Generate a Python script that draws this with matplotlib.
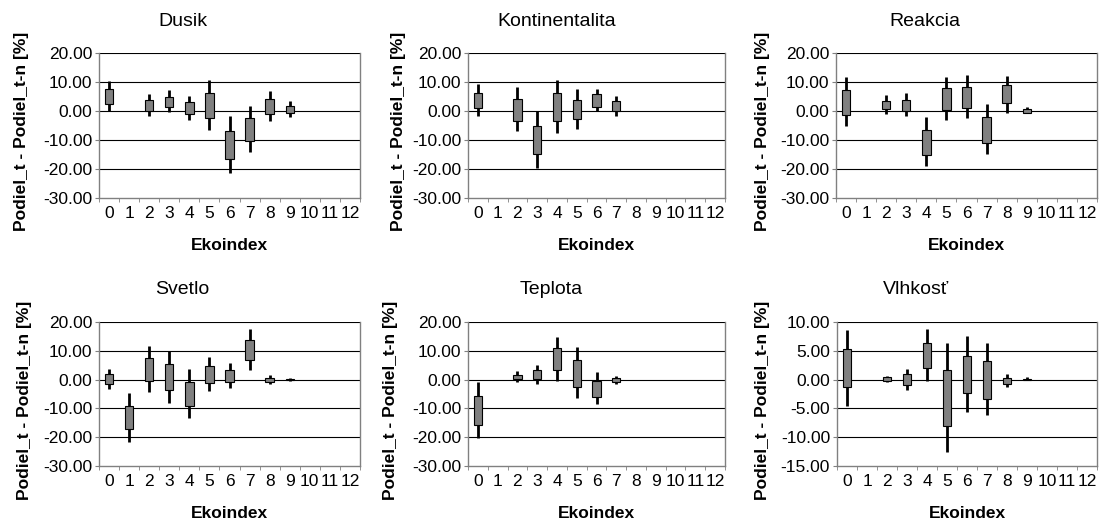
import matplotlib
matplotlib.use("Agg")
import matplotlib.pyplot as plt
import numpy as np

plt.rcParams['font.family'] = ['Liberation Sans', 'DejaVu Sans']

categories = [str(i) for i in range(13)]

titles = ["Dusik", "Kontinentalita", "Reakcia", "Svetlo", "Teplota", "Vlhkosť"]

# values per category 0..12 (None = no data)
dusik_high = [10.4, None, 5.8, 7.1, 5.3, 10.8, -1.6, 1.6, 6.9, 3.3, None, None, None]
dusik_low = [0.0, None, -1.8, -0.5, -3.0, -6.6, -21.4, -14.1, -3.5, -2.1, None, None, None]
dusik_box_top = [7.6, None, 3.7, 4.8, 3.0, 6.2, -7.0, -2.4, 4.2, 1.7, None, None, None]
dusik_box_bot = [2.4, None, 0.0, 1.4, -1.0, -2.5, -16.5, -10.3, -1.0, -0.7, None, None, None]

kont_high = [9.2, None, 8.2, 0.0, 10.7, 7.6, 7.6, 5.2, None, None, None, None, None]
kont_low = [-1.6, None, -7.0, -19.8, -7.6, -6.1, 0.0, -1.8, None, None, None, None, None]
kont_box_top = [6.3, None, 4.1, -5.1, 6.1, 3.9, 5.8, 3.4, None, None, None, None, None]
kont_box_bot = [1.0, None, -3.3, -14.8, -3.3, -2.7, 1.5, 0.0, None, None, None, None, None]

reak_high = [11.6, None, 5.5, 6.1, -2.2, 11.6, 12.3, 2.3, 11.9, 1.5, None, None, None]
reak_low = [-5.3, None, -1.0, -1.6, -19.1, -3.1, -2.5, -14.9, -0.8, -0.6, None, None, None]
reak_box_top = [7.2, None, 3.5, 3.8, -6.5, 7.8, 8.4, -2.2, 8.8, 0.6, None, None, None]
reak_box_bot = [-1.3, None, 0.8, 0.0, -15.1, 0.2, 0.9, -10.9, 2.6, -0.6, None, None, None]

svet_high = [3.8, -4.8, 11.5, 9.9, 3.8, 7.8, 5.7, 17.5, 1.7, 0.7, None, None, None]
svet_low = [-3.1, -21.5, -4.4, -8.0, -13.2, -4.0, -2.8, 3.4, -1.4, -0.5, None, None, None]
svet_box_top = [1.8, -9.2, 7.5, 5.3, -1.0, 4.6, 3.2, 13.8, 0.7, 0.1, None, None, None]
svet_box_bot = [-1.5, -17.2, -0.6, -3.7, -9.2, -1.1, -1.0, 6.9, -0.9, -0.3, None, None, None]

tepl_high = [-0.8, None, 2.9, 5.2, 14.7, 11.3, 2.6, 1.4, None, None, None, None, None]
tepl_low = [-20.3, None, -1.0, -1.6, -0.5, -6.3, -8.3, -1.4, None, None, None, None, None]
tepl_box_top = [-5.7, None, 1.7, 3.2, 11.0, 6.7, -0.6, 0.6, None, None, None, None, None]
tepl_box_bot = [-15.6, None, 0.1, 0.1, 3.4, -2.5, -6.0, -0.8, None, None, None, None, None]

vlhk_high = [8.6, None, 0.7, 1.8, 8.8, 6.3, 7.5, 6.3, 0.9, 0.5, None, None, None]
vlhk_low = [-4.5, None, -0.5, -1.8, -0.2, -12.6, -5.6, -6.2, -1.2, -0.1, None, None, None]
vlhk_box_top = [5.3, None, 0.4, 0.9, 6.4, 1.6, 4.1, 3.2, 0.3, 0.1, None, None, None]
vlhk_box_bot = [-1.3, None, -0.3, -0.9, 2.1, -8.0, -2.4, -3.3, -0.8, -0.1, None, None, None]

series = [
    (dusik_high, dusik_low, dusik_box_top, dusik_box_bot),
    (kont_high, kont_low, kont_box_top, kont_box_bot),
    (reak_high, reak_low, reak_box_top, reak_box_bot),
    (svet_high, svet_low, svet_box_top, svet_box_bot),
    (tepl_high, tepl_low, tepl_box_top, tepl_box_bot),
    (vlhk_high, vlhk_low, vlhk_box_top, vlhk_box_bot),
]

y_ranges = [(-30, 20, 10)] * 5 + [(-15, 10, 5)]

W, H = 1099, 520
fig = plt.figure(figsize=(W / 100, H / 100), dpi=100)

# axes pixel boxes: left, right, top, bottom
boxes = [
    (99, 360, 53, 198), (468, 725, 53, 198), (836, 1097, 53, 198),
    (99, 360, 322, 466), (468, 725, 322, 466), (837, 1097, 322, 466),
]
title_pos = [(183, 22), (557, 22), (925, 22), (182, 290), (551, 290), (916, 290)]
ylab_x = [22, 398, 763, 25, 390, 763]
xlab_y = [245, 245, 245, 514, 514, 514]

gray = '#808080'
for i in range(6):
    l, r, t, b = boxes[i]
    ax = fig.add_axes([l / W, 1 - b / H, (r - l) / W, (b - t) / H])
    high, low, btop, bbot = series[i]
    ymin, ymax, step = y_ranges[i]
    x = np.arange(len(categories))
    for xi, hi, lo, bt, bb in zip(x, high, low, btop, bbot):
        if hi is None:
            continue
        ax.vlines(xi, lo, hi, color='black', lw=2.0, zorder=3)
        ax.bar(xi, bt - bb, bottom=bb, width=0.42, color=gray,
               edgecolor='black', linewidth=0.8, zorder=4)
    ax.set_xlim(-0.5, len(categories) - 0.5)
    ax.set_ylim(ymin, ymax)
    yt = np.arange(ymin, ymax + 0.1, step)
    ax.set_yticks(yt)
    ax.set_yticklabels([f"{v:.2f}" for v in yt], fontsize=12.5)
    for v in yt[1:]:
        ax.axhline(v, color='black', lw=0.8, zorder=1)
    ax.set_xticks(x)
    ax.set_xticklabels(categories, fontsize=12.5)
    ax.set_xticks(np.arange(-0.5, len(categories)), minor=True)
    ax.tick_params(axis='x', which='major', length=0, pad=6)
    ax.tick_params(axis='x', which='minor', length=3, color=gray, direction='out')
    ax.tick_params(axis='y', length=3, color=gray, direction='out', pad=2)
    for s in ax.spines.values():
        s.set_color(gray)
        s.set_linewidth(1.0)
    ax.spines['top'].set_visible(False)
    fig.text(title_pos[i][0] / W, 1 - title_pos[i][1] / H, titles[i],
             ha='center', va='center', fontsize=14)
    fig.text(ylab_x[i] / W, 1 - ((t + b) / 2 + 6) / H, "Podiel_t - Podiel_t-n [%]",
             rotation=90, ha='center', va='center', fontsize=12.5, fontweight='bold')
    fig.text((l + r) / 2 / W, 1 - xlab_y[i] / H, "Ekoindex",
             ha='center', va='center', fontsize=12.5, fontweight='bold')

fig.savefig("out.png", dpi=100)
